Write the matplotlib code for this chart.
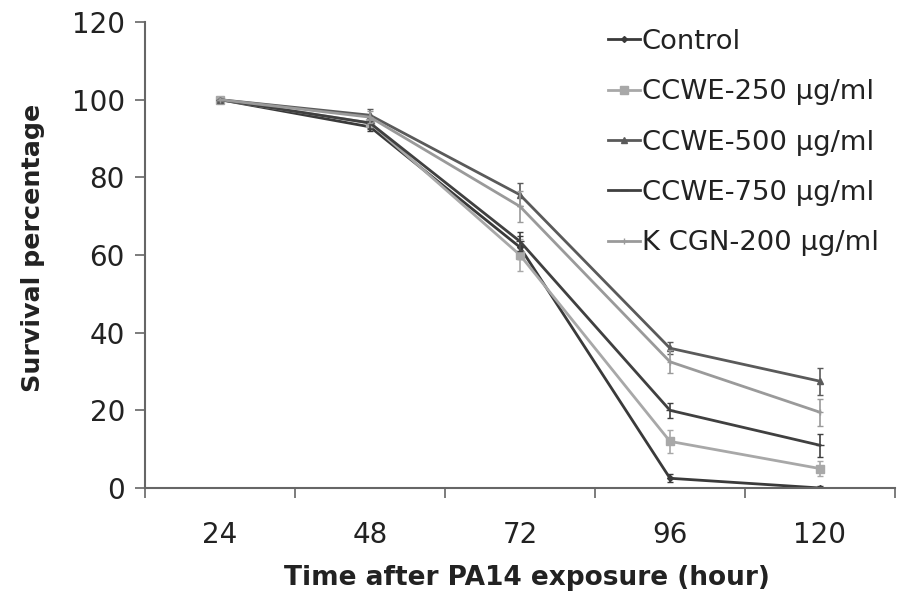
import matplotlib.pyplot as plt
import numpy as np

plt.rcParams['font.family'] = ['DejaVu Sans']

hours = ["24", "48", "72", "96", "120"]

control = [100, 93, 62, 2.5, 0]
control_err = [0, 1, 3, 1, 0.5]
ccwe250 = [100, 94, 60, 12, 5]
ccwe250_err = [0, 1, 4, 3, 2]
ccwe500 = [100, 96, 75.5, 36, 27.5]
ccwe500_err = [0, 1.5, 3, 1.5, 3.5]
ccwe750 = [100, 94, 63.5, 20, 11]
ccwe750_err = [0, 1.5, 2.5, 2, 3]
kcgn200 = [100, 95.5, 72.5, 32.5, 19.5]
kcgn200_err = [0, 1.5, 4, 3, 3.5]

series = [
    ("Control", control, control_err, "#3a3a3a", "D", 3),
    ("CCWE-250 µg/ml", ccwe250, ccwe250_err, "#a8a8a8", "s", 6),
    ("CCWE-500 µg/ml", ccwe500, ccwe500_err, "#5a5a5a", "^", 5),
    ("CCWE-750 µg/ml", ccwe750, ccwe750_err, "#404040", "_", 6),
    ("K CGN-200 µg/ml", kcgn200, kcgn200_err, "#9a9a9a", "+", 5),
]

fig = plt.figure(figsize=(8.97, 6), dpi=100)
ax = fig.add_axes([0.1617, 0.1867, 0.836, 0.7766])

x = np.arange(len(hours))
for name, vals, err, col, mk, ms in series:
    ax.errorbar(x, vals, yerr=err, fmt='none', ecolor=col, elinewidth=1.2, capsize=2.5)
    ax.plot(x, vals, color=col, marker=mk, markersize=ms, linewidth=2, label=name)

ax.set_xlim(-0.5, len(hours) - 0.5)
ax.set_ylim(0, 120)
ax.set_yticks(range(0, 121, 20))
ax.set_xticks(x)
ax.set_xticklabels(hours)
ax.set_xticks(np.arange(-0.5, len(hours), 1), minor=True)
ax.tick_params(axis='x', which='major', length=0, pad=24, labelsize=20, colors='#222222')
ax.tick_params(axis='x', which='minor', length=7.5, width=1.2, color='#666666')
ax.tick_params(axis='y', length=7.5, width=1.2, color='#666666', labelsize=20, pad=7,
               labelcolor='#222222')

for s in ['top', 'right']:
    ax.spines[s].set_visible(False)
for s in ['left', 'bottom']:
    ax.spines[s].set_color('#666666')
    ax.spines[s].set_linewidth(1.5)

ax.set_xlabel("Time after PA14 exposure (hour)", fontsize=19, fontweight='bold',
              color='#222222', va='top')
ax.xaxis.set_label_coords(0.509, -0.165)
ax.set_ylabel("Survival percentage", fontsize=18.3, fontweight='bold',
              color='#222222')
ax.yaxis.set_label_coords(-0.133, 0.515)

leg = ax.legend(loc='upper left', bbox_to_anchor=(0.603, 1.0086), frameon=False,
                fontsize=19.7, handlelength=1.17, handletextpad=0.05, labelspacing=0.89,
                borderaxespad=0)
for t in leg.get_texts():
    t.set_color('#222222')

fig.savefig("out.png", dpi=100)
